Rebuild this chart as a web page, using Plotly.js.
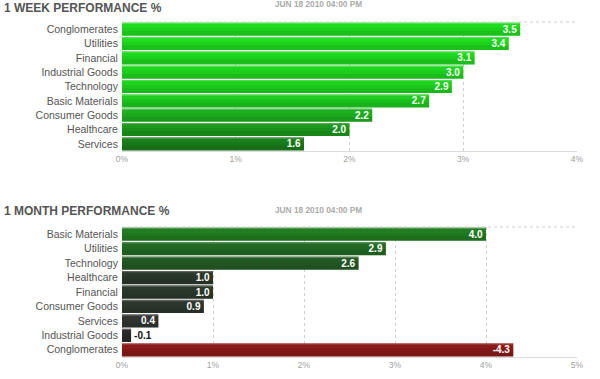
<!DOCTYPE html>
<html>
<head>
<meta charset="utf-8">
<script src="https://cdn.plot.ly/plotly-3.0.1.min.js"></script>
<style>html,body{margin:0;padding:0;background:#fff;}#chart{width:600px;height:379px;}</style>
</head>
<body>
<div id="chart"></div>
<script>
// ---- data ----
const weekSectors = ["Conglomerates","Utilities","Financial","Industrial Goods","Technology","Basic Materials","Consumer Goods","Healthcare","Services"];
const weekValues  = [3.5, 3.4, 3.1, 3.0, 2.9, 2.7, 2.2, 2.0, 1.6];
const monthSectors = ["Basic Materials","Utilities","Technology","Healthcare","Financial","Consumer Goods","Services","Industrial Goods","Conglomerates"];
const monthValues  = [4.0, 2.9, 2.6, 1.0, 1.0, 0.9, 0.4, -0.1, -4.3];
const weekTitle = "1 WEEK PERFORMANCE %";
const monthTitle = "1 MONTH PERFORMANCE %";
const stamp = "JUN 18 2010 04:00 PM";

// ---- styles ----
const weekColors  = ["#1edc1e","#1edc1e","#1ed81e","#1ed61e","#1ed31e","#1ecb1e","#1eb01e","#1c981c","#1a7e1a"];
const monthColors = ["#237e23","#246a24","#255a25","#2c3a2c","#2c3a2c","#2d372d","#333533","#2a2a2a","#8c1a1a"];

function fmt(v){ return v.toFixed(1); }

function traces(cats, vals, colors, xa, ya){
  const absV = vals.map(v => Math.abs(v));
  const common = {type:'bar', orientation:'h', y:cats, x:absV, xaxis:xa, yaxis:ya, hoverinfo:'skip', showlegend:false};
  const base  = Object.assign({}, common, {marker:{color:colors, line:{width:0}}});
  const mid   = Object.assign({}, common, {width:0.22, offset:-0.1, marker:{color:'rgba(0,0,0,0.05)', line:{width:0}}});
  const shade = Object.assign({}, common, {width:0.34, offset:0.12, marker:{color:'rgba(0,0,0,0.12)', line:{width:0}}});
  const hi    = Object.assign({}, common, {width:0.1, offset:-0.46, marker:{color:'rgba(255,255,255,0.22)', line:{width:0}}});
  const txt   = Object.assign({}, common, {
    marker:{color:'rgba(0,0,0,0)', line:{width:0}},
    text: vals.map(fmt),
    textposition: absV.map(v => v < 0.3 ? 'outside' : 'inside'),
    insidetextanchor:'end', constraintext:'none', cliponaxis:false,
    textfont:{family:'Liberation Sans, Arial, sans-serif', size:10, weight:'bold',
      color: absV.map(v => v < 0.3 ? '#111' : '#fff')}});
  return [base, mid, shade, hi, txt];
}

const data = [].concat(
  traces(weekSectors, weekValues, weekColors, 'x', 'y'),
  traces(monthSectors, monthValues, monthColors, 'x2', 'y2')
);

const xd = [122/600, 577/600];
const axFont = {family:'Liberation Sans, Arial, sans-serif', size:8.5, color:'#a0a0a0'};
const catFont = {family:'Liberation Sans, Arial, sans-serif', size:10.5, color:'#555'};
function xax(range, anchor){
  return {domain:xd, range:range, anchor:anchor, dtick:1, ticksuffix:'%', tickfont:axFont,
    showgrid:true, gridcolor:'#cfcfcf', griddash:'dot', gridwidth:1, zeroline:false,
    showline:true, linecolor:'#dcdcdc', linewidth:1, ticks:'', fixedrange:true};
}
function yax(domain, anchor){
  return {domain:domain, anchor:anchor, autorange:'reversed', tickfont:catFont, ticks:'outside',
    ticklen:1, tickcolor:'rgba(0,0,0,0)', showgrid:false, zeroline:false, showline:false, fixedrange:true};
}

const topDom = [1-151/379, 1-22/379];
const botDom = [1-357/379, 1-227/379];

const titleFont = {family:'Liberation Sans, Arial, sans-serif', size:12, color:'#555', weight:'bold'};
const stampFont = {family:'Liberation Sans, Arial, sans-serif', size:8.3, color:'#aaa', weight:'bold'};

const layout = {
  width:600, height:379, margin:{l:0,r:0,t:0,b:0}, paper_bgcolor:'#fff', plot_bgcolor:'#fff',
  barmode:'overlay', bargap:0.08, hovermode:false,
  xaxis: xax([0,4], 'y'), yaxis: yax(topDom, 'x'),
  xaxis2: xax([0,5], 'y2'), yaxis2: yax(botDom, 'x2'),
  shapes:[
    {type:'line', xref:'x domain', yref:'y domain', x0:0, x1:1, y0:1, y1:1, line:{color:'#cfcfcf', width:1, dash:'dot'}},
    {type:'line', xref:'x2 domain', yref:'y2 domain', x0:0, x1:1, y0:1, y1:1, line:{color:'#cfcfcf', width:1, dash:'dot'}}
  ],
  annotations:[
    {text:weekTitle, xref:'paper', yref:'paper', x:2/600, y:1-8/379, xanchor:'left', yanchor:'middle', showarrow:false, font:titleFont},
    {text:stamp, xref:'paper', yref:'paper', x:273/600, y:1-4/379, xanchor:'left', yanchor:'middle', showarrow:false, font:stampFont},
    {text:monthTitle, xref:'paper', yref:'paper', x:2/600, y:1-211/379, xanchor:'left', yanchor:'middle', showarrow:false, font:titleFont},
    {text:stamp, xref:'paper', yref:'paper', x:273/600, y:1-210/379, xanchor:'left', yanchor:'middle', showarrow:false, font:stampFont}
  ]
};

Plotly.newPlot('chart', data, layout, {staticPlot:true, displayModeBar:false});
</script>
</body>
</html>
